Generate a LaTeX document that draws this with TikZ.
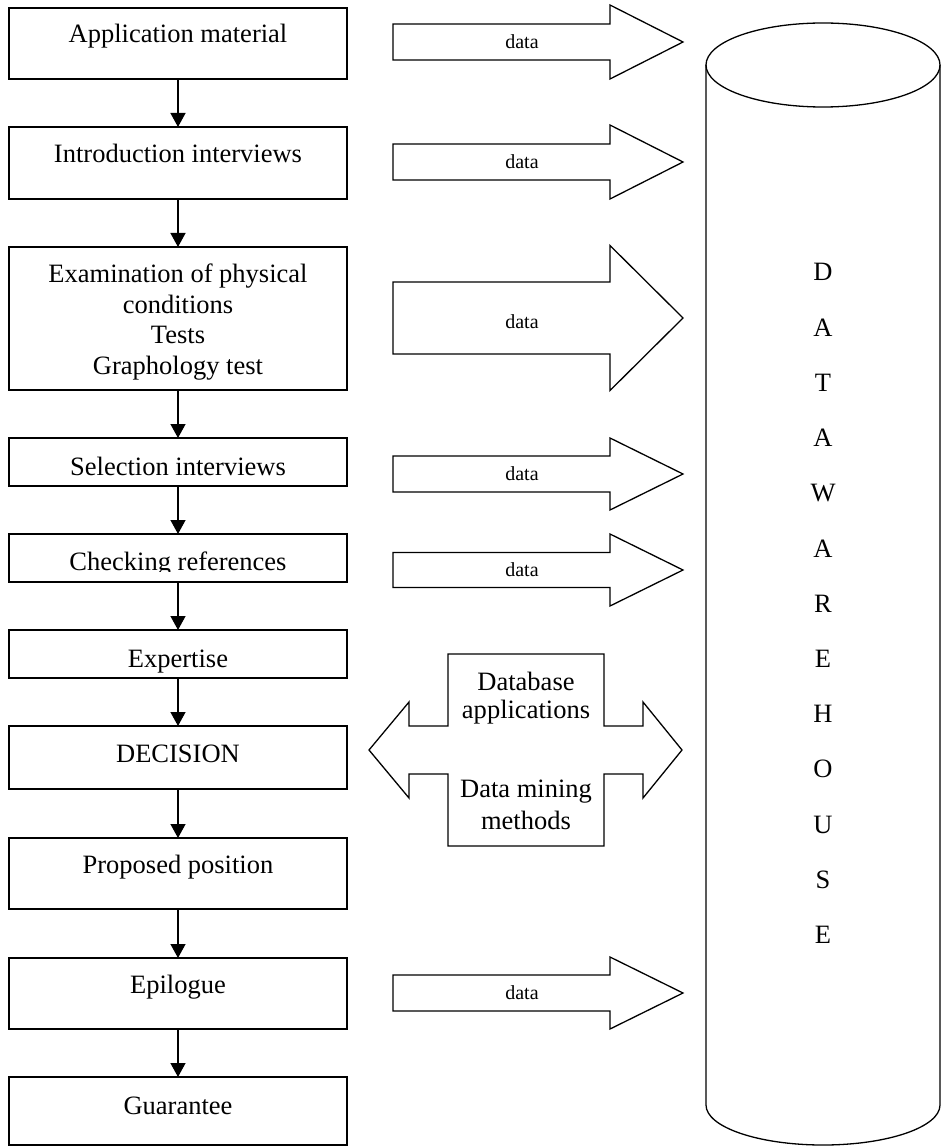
\documentclass[tikz,border=0pt]{standalone}
\usepackage{fontspec}
\setmainfont{Liberation Serif}
\usetikzlibrary{arrows.meta}
\begin{document}
\begin{tikzpicture}[x=1pt,y=-1pt,
  every node/.style={inner sep=0pt, outer sep=0pt},
  stepbox/.style={draw, line width=1.3pt, minimum width=338pt, anchor=north west, rectangle},
  boxtext/.style={font=\fontsize{26.5}{30.5}\selectfont, anchor=base, align=center},
  boxtextml/.style={font=\fontsize{26.5}{30.5}\selectfont, anchor=north, align=center},
  flow/.style={line width=1.3pt, -{Triangle[length=14pt,width=15pt]}},
  blockarrow/.style={draw, line width=1.3pt, line join=miter},
  datatext/.style={font=\fontsize{20}{24}\selectfont},
  letter/.style={font=\fontsize{26.5}{30}\selectfont, anchor=base}
]
\useasboundingbox (0,0) rectangle (941,1147);

% left column boxes
\node[stepbox, minimum height=71pt] (b1) at (9,8) {};
\node[stepbox, minimum height=72pt] (b2) at (9,127) {};
\node[stepbox, minimum height=143pt] (b3) at (9,247) {};
\node[stepbox, minimum height=48pt] (b4) at (9,438) {};
\node[stepbox, minimum height=48pt] (b5) at (9,534) {};
\node[stepbox, minimum height=48pt] (b6) at (9,630) {};
\node[stepbox, minimum height=63pt] (b7) at (9,726) {};
\node[stepbox, minimum height=71pt] (b8) at (9,838) {};
\node[stepbox, minimum height=71pt] (b9) at (9,958) {};
\node[stepbox, minimum height=68pt] (b10) at (9,1077) {};

\node[boxtext] (t1) at (178,43) {Application material};
\node[boxtext] (t2) at (178,163) {Introduction interviews};
\node[boxtextml] (t3) at (178,264) {Examination of physical\\conditions\\Tests\\Graphology test};
\node[boxtext] (t4) at (178,475) {Selection interviews};
\begin{scope}
\clip (9,534) rectangle (347,571);
\node[boxtext] (t5) at (178,570) {Checking references};
\end{scope}
\node[boxtext] (t6) at (178,667) {Expertise};
\node[boxtext] (t7) at (178,762) {DECISION};
\node[boxtext] (t8) at (178,873) {Proposed position};
\node[boxtext] (t9) at (178,993) {Epilogue};
\node[boxtext] (t10) at (178,1114) {Guarantee};

\draw[flow] (b1.south) -- (b2.north);
\draw[flow] (b2.south) -- (b3.north);
\draw[flow] (b3.south) -- (b4.north);
\draw[flow] (b4.south) -- (b5.north);
\draw[flow] (b5.south) -- (b6.north);
\draw[flow] (b6.south) -- (b7.north);
\draw[flow] (b7.south) -- (b8.north);
\draw[flow] (b8.south) -- (b9.north);
\draw[flow] (b9.south) -- (b10.north);

% data block arrows
\newcommand\dataarrow[3]{%
  \draw[blockarrow] (393,#1-#2) -- (610,#1-#2) -- (610,#1-#3) -- (683,#1)
    -- (610,#1+#3) -- (610,#1+#2) -- (393,#1+#2) -- cycle;}
\dataarrow{42}{18}{37}
\dataarrow{162}{18}{37}
\dataarrow{318}{36}{72.5}
\dataarrow{474}{18}{36}
\dataarrow{570}{17.5}{36}
\dataarrow{993}{18}{36}
\node[datatext] (d1) at (522,42) {data};
\node[datatext] (d2) at (522,162) {data};
\node[datatext] (d3) at (522,322) {data};
\node[datatext] (d4) at (522,474) {data};
\node[datatext] (d5) at (522,570) {data};
\node[datatext] (d9) at (522,993) {data};

% double arrow callout
\draw[blockarrow] (369,750) -- (409,702) -- (409,726) -- (448,726) -- (448,654)
  -- (604,654) -- (604,726) -- (643,726) -- (643,702) -- (682,750)
  -- (643,798) -- (643,774) -- (604,774) -- (604,846) -- (448,846)
  -- (448,774) -- (409,774) -- (409,798) -- cycle;
\node[boxtextml, font=\fontsize{26.5}{28.5}\selectfont] (db) at (526,672) {Database\\applications};
\node[boxtextml, font=\fontsize{26.5}{32}\selectfont] (dm) at (526,780) {Data mining\\methods};

% data warehouse cylinder
\draw[line width=1.3pt] (823,65) ellipse [x radius=117pt, y radius=42pt];
\draw[line width=1.3pt] (706,65) -- (706,1105) arc[start angle=180, end angle=360, x radius=117pt, y radius=40pt] -- (940,65);
\foreach \l [count=\i from 0] in {D,A,T,A,W,A,R,E,H,O,U,S,E}
  \node[letter] at (823,281+55.2*\i) {\l};
\end{tikzpicture}
\end{document}
